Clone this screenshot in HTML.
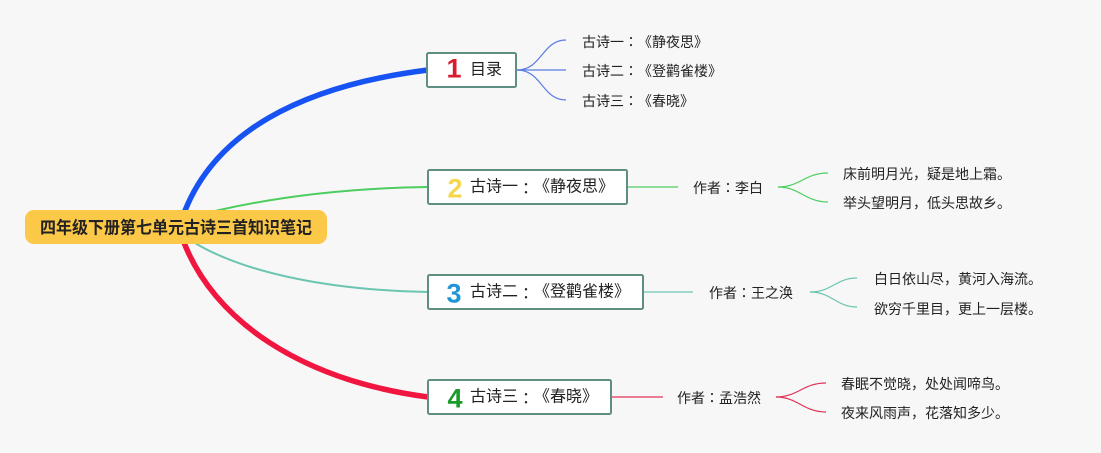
<!DOCTYPE html>
<html>
<head>
<meta charset="utf-8">
<style>
  html, body { margin: 0; padding: 0; background: #f6f6f7; }
  body { width: 1101px; height: 453px; overflow: hidden; text-spacing-trim: space-all; }
  svg { display: block; text-spacing-trim: space-all; }
  .t { font-family: "Liberation Sans", "Noto Sans CJK SC", sans-serif; fill: #222; text-spacing-trim: space-all; font-kerning: none; }
  .c { font-family: "Noto Sans CJK JP", "Noto Sans CJK SC", sans-serif; }
  .num { font-family: "Liberation Sans", "DejaVu Sans", sans-serif; font-weight: bold; }
</style>
</head>
<body>
<svg width="1101" height="453" viewBox="0 0 1101 453" xmlns="http://www.w3.org/2000/svg">
  <rect x="0" y="0" width="1101" height="453" fill="#f7f7f8"/>

  <!-- main branches -->
  <path d="M183,216 C 213,133 300,86 428,70" fill="none" stroke="#1752f2" stroke-width="5.5" stroke-linecap="round"/>
  <path d="M183,240 C 213,320 300,380 428,397" fill="none" stroke="#f1163f" stroke-width="5.5" stroke-linecap="round"/>
  <path d="M215,211 C 280,196 350,188 428,187" fill="none" stroke="#4ccd5e" stroke-width="2"/>
  <path d="M195,243 C 240,270 320,290 428,292" fill="none" stroke="#6cc5b1" stroke-width="2"/>

  <!-- central node -->
  <rect x="25" y="210" width="302" height="34" rx="9" ry="9" fill="#fcc847"/>
  <text class="t" x="40" y="228" font-size="17" font-weight="bold" dominant-baseline="central" fill="#111" textLength="272" lengthAdjust="spacingAndGlyphs">四年级下册第七单元古诗三首知识笔记</text>

  <!-- Box 1 -->
  <rect x="427" y="53" width="89" height="34" rx="1.5" fill="#ffffff" stroke="#5e8f82" stroke-width="2"/>
  <text class="num" x="454" y="77.5" font-size="27" text-anchor="middle" fill="#d81c2e">1</text>
  <text class="t" x="470" y="70" font-size="16" dominant-baseline="central" textLength="32">目录</text>
  <!-- Box1 children -->
  <path d="M517,70 C 542,70 542,40 566,40" fill="none" stroke="#5a7ee0" stroke-width="1.2"/>
  <path d="M517,70 L 566,70" fill="none" stroke="#5a7ee0" stroke-width="1.2"/>
  <path d="M517,70 C 542,70 542,100 566,100" fill="none" stroke="#5a7ee0" stroke-width="1.2"/>
  <text class="t" x="582" y="42" font-size="14" dominant-baseline="central" fill="#333" textLength="126">古诗一<tspan class="c">：</tspan>《静夜思》</text>
  <text class="t" x="582" y="71" font-size="14" dominant-baseline="central" fill="#333" textLength="140">古诗二<tspan class="c">：</tspan>《登鹳雀楼》</text>
  <text class="t" x="582" y="101" font-size="14" dominant-baseline="central" fill="#333" textLength="112">古诗三<tspan class="c">：</tspan>《春晓》</text>

  <!-- Box 2 -->
  <rect x="428" y="170" width="199" height="34" rx="1.5" fill="#ffffff" stroke="#5e8f82" stroke-width="2"/>
  <text class="num" x="455" y="197.5" font-size="27" text-anchor="middle" fill="#f6d64a">2</text>
  <text class="t" x="470" y="187" font-size="16" dominant-baseline="central" textLength="144">古诗一<tspan class="c">：</tspan>《静夜思》</text>
  <path d="M628,187 L678,187" stroke="#4ccd5e" stroke-width="1.2"/>
  <text class="t" x="693" y="188" font-size="14" dominant-baseline="central" fill="#333" textLength="70">作者<tspan class="c">：</tspan>李白</text>
  <path d="M778,187 C 800,187 805,173 828,173" fill="none" stroke="#4ccd5e" stroke-width="1.2"/>
  <path d="M778,187 C 800,187 805,202 828,202" fill="none" stroke="#4ccd5e" stroke-width="1.2"/>
  <text class="t" x="843" y="174" font-size="14" dominant-baseline="central" fill="#333" textLength="168">床前明月光，疑是地上霜。</text>
  <text class="t" x="843" y="203" font-size="14" dominant-baseline="central" fill="#333" textLength="168">举头望明月，低头思故乡。</text>

  <!-- Box 3 -->
  <rect x="428" y="275" width="215" height="34" rx="1.5" fill="#ffffff" stroke="#5e8f82" stroke-width="2"/>
  <text class="num" x="454" y="302.5" font-size="27" text-anchor="middle" fill="#1f95d8">3</text>
  <text class="t" x="470" y="292" font-size="16" dominant-baseline="central" textLength="160">古诗二<tspan class="c">：</tspan>《登鹳雀楼》</text>
  <path d="M644,292 L693,292" stroke="#6cc5b1" stroke-width="1.2"/>
  <text class="t" x="709" y="293" font-size="14" dominant-baseline="central" fill="#333" textLength="84">作者<tspan class="c">：</tspan>王之涣</text>
  <path d="M810,292 C 832,292 836,278 857,278" fill="none" stroke="#6cc5b1" stroke-width="1.2"/>
  <path d="M810,292 C 832,292 836,307 857,307" fill="none" stroke="#6cc5b1" stroke-width="1.2"/>
  <text class="t" x="874" y="279" font-size="14" dominant-baseline="central" fill="#333" textLength="168">白日依山尽，黄河入海流。</text>
  <text class="t" x="874" y="309" font-size="14" dominant-baseline="central" fill="#333" textLength="168">欲穷千里目，更上一层楼。</text>

  <!-- Box 4 -->
  <rect x="428" y="380" width="183" height="34" rx="1.5" fill="#ffffff" stroke="#5e8f82" stroke-width="2"/>
  <text class="num" x="455" y="407.5" font-size="27" text-anchor="middle" fill="#1a9a2b">4</text>
  <text class="t" x="470" y="397" font-size="16" dominant-baseline="central" textLength="128">古诗三<tspan class="c">：</tspan>《春晓》</text>
  <path d="M612,397 L663,397" stroke="#e0345a" stroke-width="1.2"/>
  <text class="t" x="677" y="398" font-size="14" dominant-baseline="central" fill="#333" textLength="84">作者<tspan class="c">：</tspan>孟浩然</text>
  <path d="M776,397 C 798,397 803,383 826,383" fill="none" stroke="#e0345a" stroke-width="1.2"/>
  <path d="M776,397 C 798,397 803,412 826,412" fill="none" stroke="#e0345a" stroke-width="1.2"/>
  <text class="t" x="841" y="384" font-size="14" dominant-baseline="central" fill="#333" textLength="168">春眠不觉晓，处处闻啼鸟。</text>
  <text class="t" x="841" y="413" font-size="14" dominant-baseline="central" fill="#333" textLength="168">夜来风雨声，花落知多少。</text>
</svg>
</body>
</html>
